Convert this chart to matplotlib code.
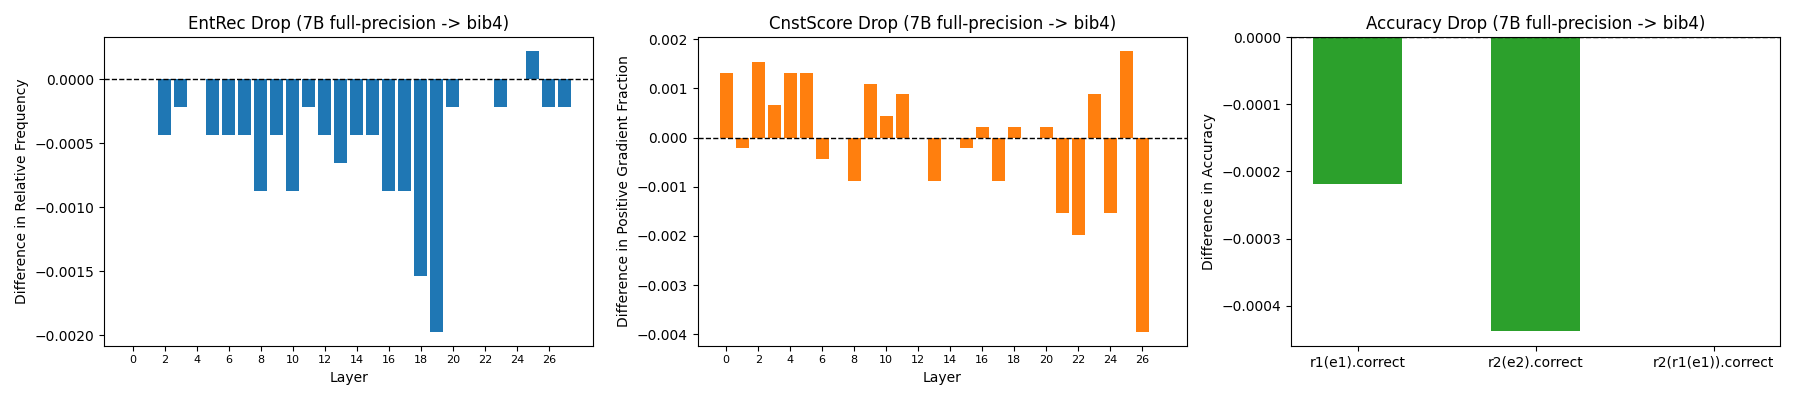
import matplotlib
matplotlib.use("Agg")
import matplotlib.pyplot as plt
import numpy as np

layers = list(range(28))

entrec_diff = [
    0.0, 0.0, -0.000438, -0.000219, 0.0, -0.000438, -0.000438, -0.000438,
    -0.000877, -0.000438, -0.000877, -0.000219, -0.000438, -0.000658, -0.000438, -0.000438,
    -0.000877, -0.000877, -0.001535, -0.001974, -0.000219, 0.0, 0.0, -0.000219,
    0.0, 0.000219, -0.000219, -0.000219,
]

cnst_diff = [
    0.001316, -0.000219, 0.001535, 0.000658, 0.001316, 0.001316, -0.000438, 0.0,
    -0.000877, 0.001096, 0.000438, 0.000877, 0.0, -0.000877, 0.0, -0.000219,
    0.000219, -0.000877, 0.000219, 0.0, 0.000219, -0.001535, -0.001974, 0.000877,
    -0.001535, 0.001754, -0.003947, 0.0,
]

acc_labels = ["r1(e1).correct", "r2(e2).correct", "r2(r1(e1)).correct"]
acc_diff = [-0.000219, -0.000438, 0.0]

title_suffix = "(7B full-precision -> bib4)"

fig, axes = plt.subplots(1, 3, figsize=(18, 4))

ax = axes[0]
ax.bar(layers, entrec_diff, color="tab:blue")
ax.axhline(0, color="black", linestyle="--", linewidth=1)
ax.set_title(f"EntRec Drop {title_suffix}")
ax.set_xlabel("Layer")
ax.set_ylabel("Difference in Relative Frequency")
ax.set_xticks(np.arange(0, 28, 2))
ax.tick_params(axis="x", labelsize=8)

ax = axes[1]
ax.bar(layers, cnst_diff, color="tab:orange")
ax.axhline(0, color="black", linestyle="--", linewidth=1)
ax.set_title(f"CnstScore Drop {title_suffix}")
ax.set_xlabel("Layer")
ax.set_ylabel("Difference in Positive Gradient Fraction")
ax.set_xticks(np.arange(0, 28, 2))
ax.tick_params(axis="x", labelsize=8)

ax = axes[2]
ax.bar(acc_labels, acc_diff, color="tab:green", width=0.5)
ax.axhline(0, color="black", linestyle="--", linewidth=1)
ax.set_title(f"Accuracy Drop {title_suffix}")
ax.set_ylabel("Difference in Accuracy")

plt.tight_layout()
plt.savefig("out.png", dpi=100)
plt.close()
